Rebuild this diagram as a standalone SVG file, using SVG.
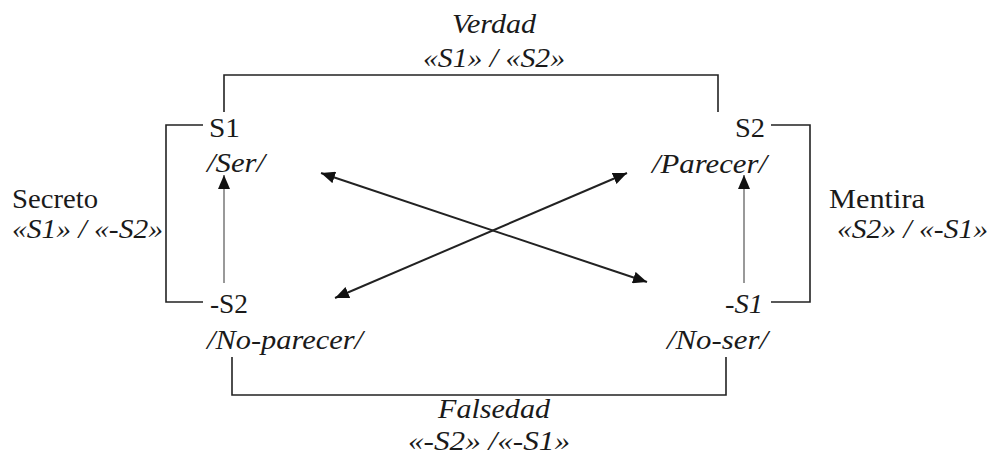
<svg xmlns="http://www.w3.org/2000/svg" width="992" height="458" viewBox="0 0 992 458">
<defs>
<style>
text{font-family:'Liberation Serif','DejaVu Serif',serif;font-size:28px;fill:#1a1a1a}
.i{font-style:italic}
.br{fill:none;stroke:#222;stroke-width:1.6}
.dg{fill:none;stroke:#222;stroke-width:2}
.vt{fill:none;stroke:#555;stroke-width:1.2}
</style>
<marker id="ah" markerUnits="userSpaceOnUse" markerWidth="16" markerHeight="12" refX="14" refY="6" orient="auto-start-reverse" viewBox="0 0 16 12">
<path d="M0,0 L14,6 L0,12 Z" fill="#111"/>
</marker>
</defs>
<rect width="992" height="458" fill="#fff"/>
<g id="connectors">
<path id="verdad-bracket" class="br" d="M224,112 V75 H718 V112"/>
<path id="secreto-bracket" class="br" d="M203,125 H166 V302 H203"/>
<path id="mentira-bracket" class="br" d="M771,125 H810 V302 H771"/>
<path id="falsedad-bracket" class="br" d="M232,357 V395 H726 V357"/>
<line class="dg" x1="321" y1="173" x2="647" y2="282" marker-start="url(#ah)" marker-end="url(#ah)"/>
<line class="dg" x1="335" y1="298" x2="627" y2="173" marker-start="url(#ah)" marker-end="url(#ah)"/>
<line class="vt" x1="224" y1="283" x2="224" y2="175" marker-end="url(#ah)"/>
<line class="vt" x1="744" y1="283" x2="744" y2="175" marker-end="url(#ah)"/>
</g>
<g id="verdad">
<text class="i" x="452" y="33" textLength="84" lengthAdjust="spacingAndGlyphs">Verdad</text>
<text class="i" x="423" y="67" textLength="142" lengthAdjust="spacingAndGlyphs">«S1» / «S2»</text>
</g>
<g id="s1">
<text x="209" y="137" textLength="31" lengthAdjust="spacingAndGlyphs">S1</text>
<text class="i" x="207" y="172" textLength="58" lengthAdjust="spacingAndGlyphs">/Ser/</text>
</g>
<g id="s2">
<text x="735" y="137" textLength="30" lengthAdjust="spacingAndGlyphs">S2</text>
<text class="i" x="652" y="173" textLength="115" lengthAdjust="spacingAndGlyphs">/Parecer/</text>
</g>
<g id="secreto">
<text x="12" y="208" textLength="86" lengthAdjust="spacingAndGlyphs">Secreto</text>
<text class="i" x="12" y="238" textLength="151" lengthAdjust="spacingAndGlyphs">«S1» / «-S2»</text>
</g>
<g id="mentira">
<text x="829" y="208" textLength="96" lengthAdjust="spacingAndGlyphs">Mentira</text>
<text class="i" x="837" y="238" textLength="151" lengthAdjust="spacingAndGlyphs">«S2» / «-S1»</text>
</g>
<g id="no-s2">
<text x="210" y="313" textLength="38" lengthAdjust="spacingAndGlyphs">-S2</text>
<text class="i" x="207" y="349" textLength="156" lengthAdjust="spacingAndGlyphs">/No-parecer/</text>
</g>
<g id="no-s1">
<text class="i" x="725" y="313" textLength="38" lengthAdjust="spacingAndGlyphs">-S1</text>
<text class="i" x="667" y="349" textLength="101" lengthAdjust="spacingAndGlyphs">/No-ser/</text>
</g>
<g id="falsedad">
<text class="i" x="438" y="418" textLength="112" lengthAdjust="spacingAndGlyphs">Falsedad</text>
<text class="i" x="408" y="450" textLength="162" lengthAdjust="spacingAndGlyphs">«-S2»  /«-S1»</text>
</g>
</svg>
